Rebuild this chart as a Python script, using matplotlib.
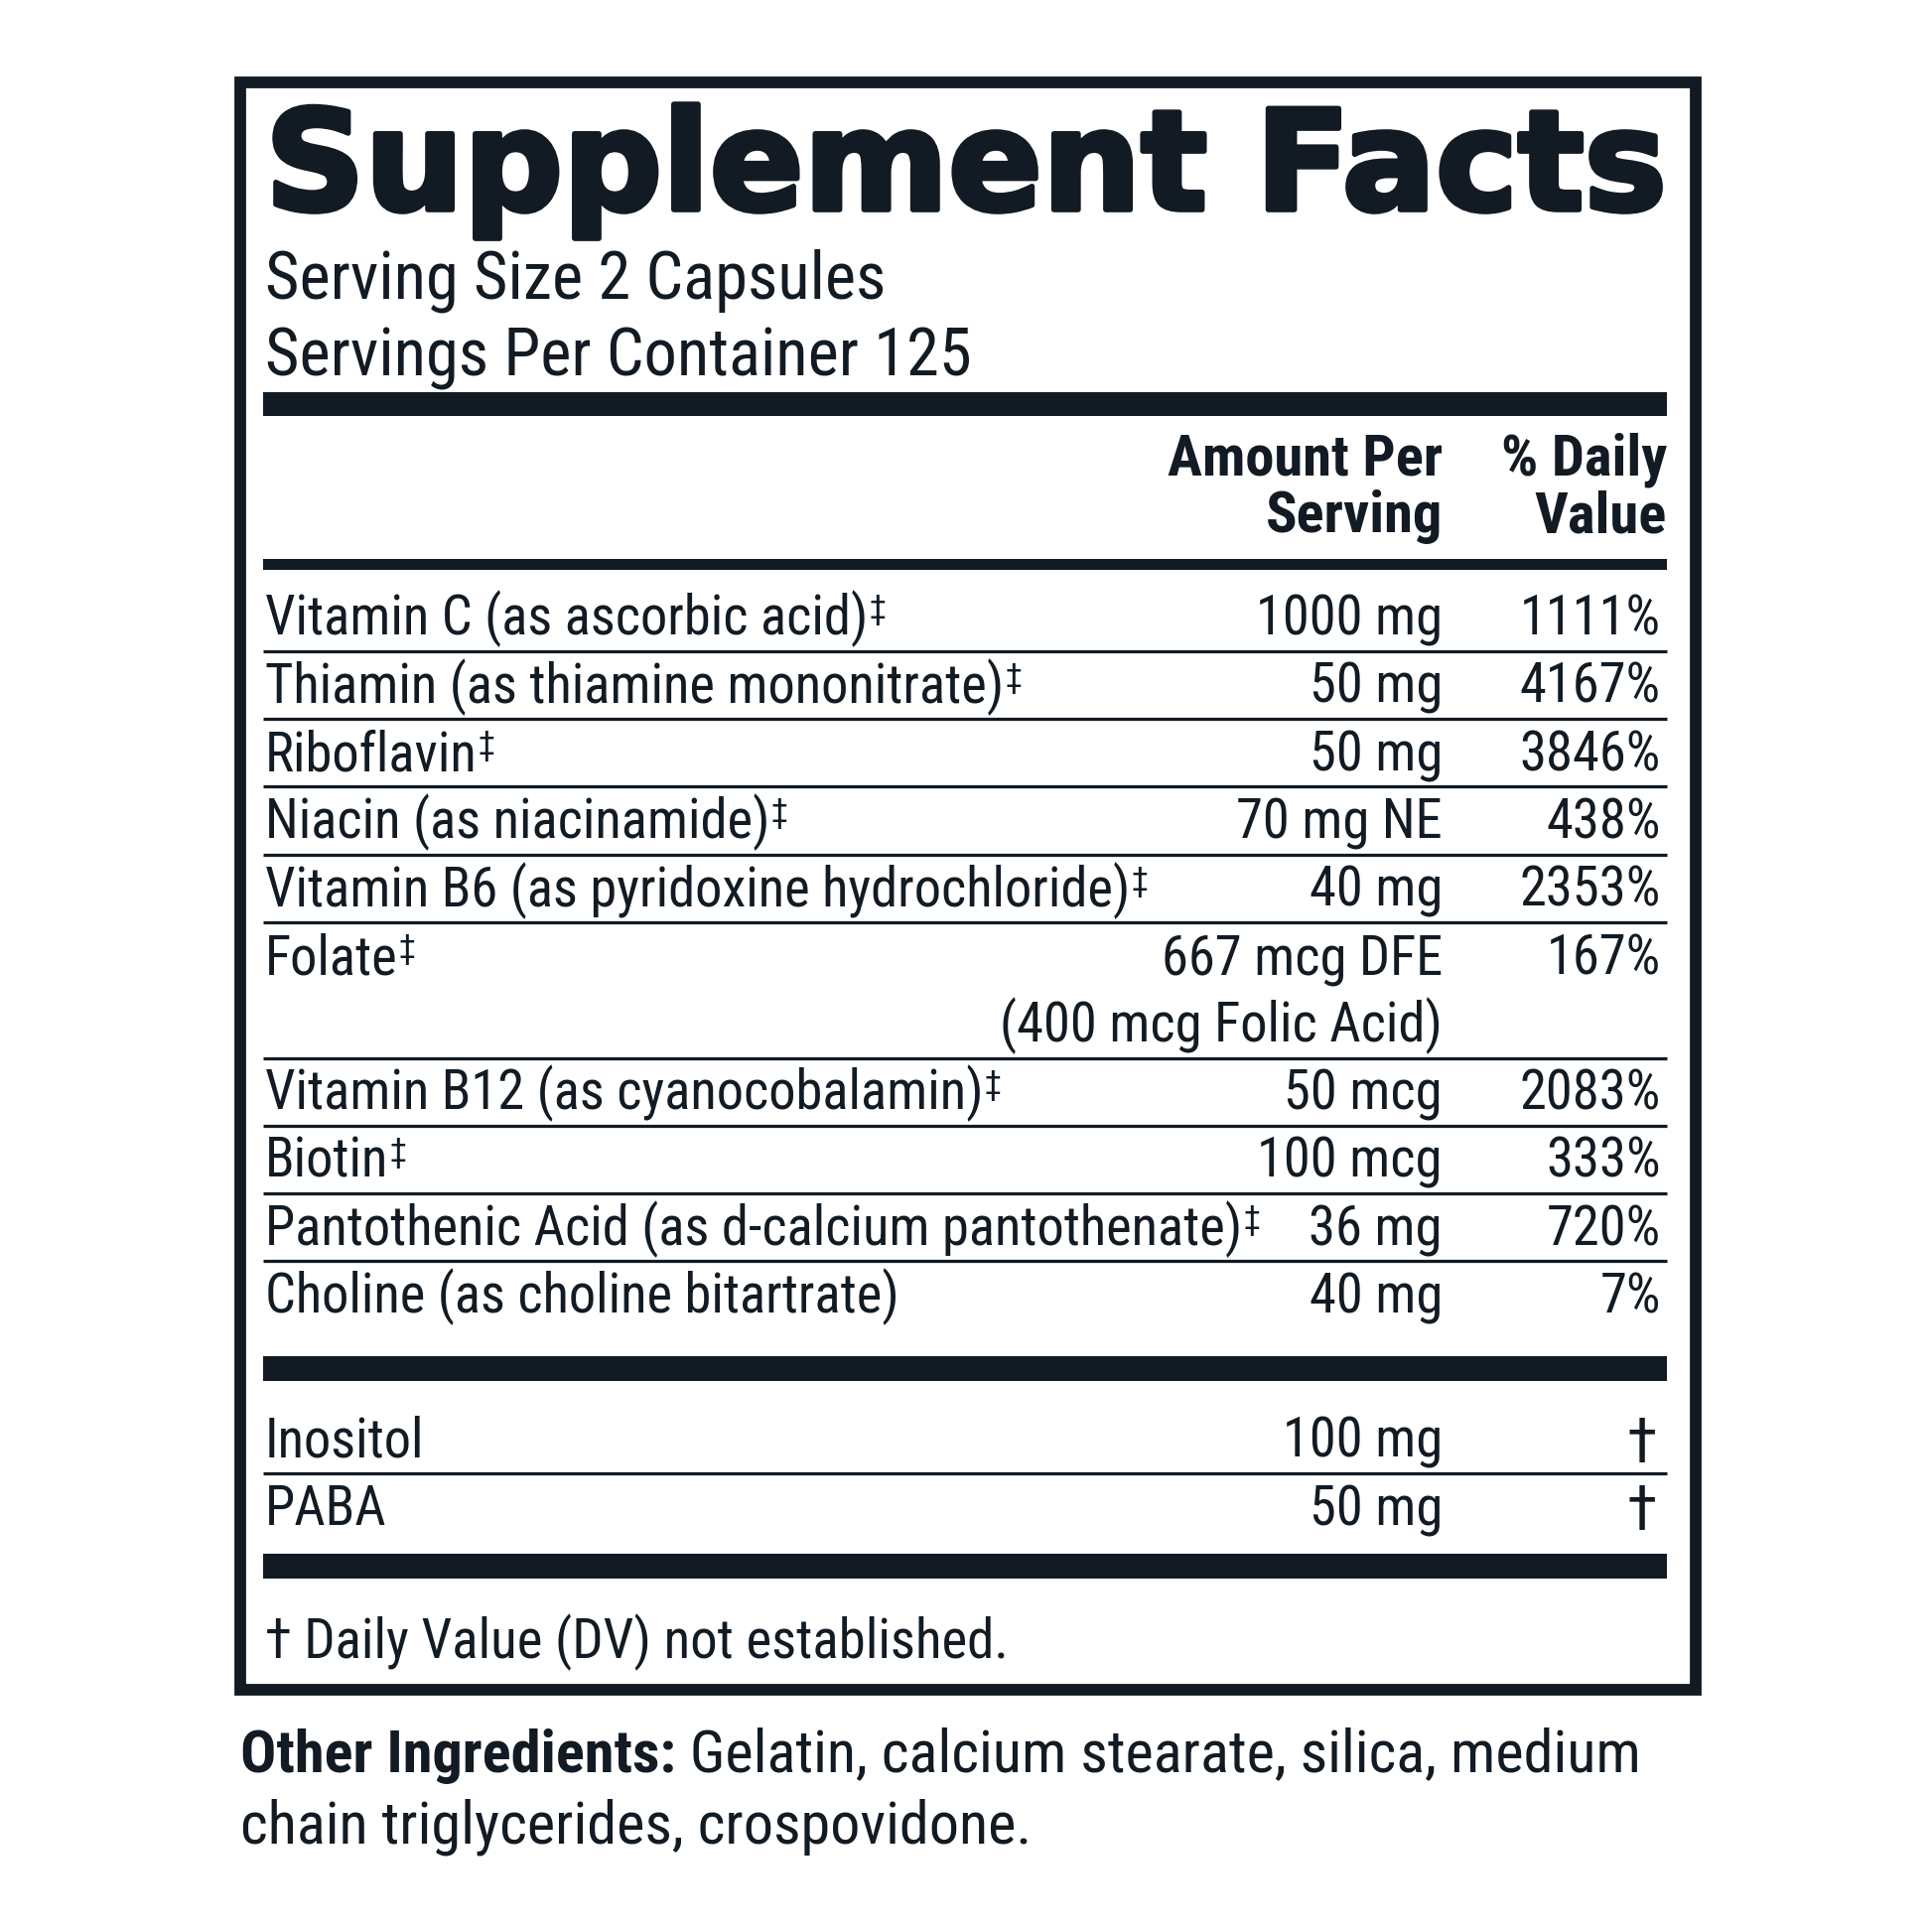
import matplotlib
matplotlib.use('Agg')
import matplotlib.pyplot as plt
from matplotlib import font_manager as fm
from matplotlib import patheffects as pe
from matplotlib.patches import Rectangle

# ---------------- data ----------------
title = 'Supplement Facts'
serving_lines = ['Serving Size 2 Capsules', 'Servings Per Container 125']
header_amount = ['Amount Per', 'Serving']
header_dv = ['% Daily', 'Value']

nutrients = ['Vitamin C (as ascorbic acid)', 'Thiamin (as thiamine mononitrate)', 'Riboflavin',
             'Niacin (as niacinamide)', 'Vitamin B6 (as pyridoxine hydrochloride)', 'Folate',
             'Vitamin B12 (as cyanocobalamin)', 'Biotin',
             'Pantothenic Acid (as d-calcium pantothenate)', 'Choline (as choline bitartrate)']
nutrient_marks = ['‡', '‡', '‡', '‡', '‡', '‡', '‡', '‡', '‡', '']
amounts = ['1000 mg', '50 mg', '50 mg', '70 mg NE', '40 mg', '667 mcg DFE',
           '50 mcg', '100 mcg', '36 mg', '40 mg']
amount_notes = ['', '', '', '', '', '(400 mcg Folic Acid)', '', '', '', '']
daily_values = ['1111%', '4167%', '3846%', '438%', '2353%', '167%',
                '2083%', '333%', '720%', '7%']

other_names = ['Inositol', 'PABA']
other_amounts = ['100 mg', '50 mg']
other_dv = ['†', '†']

footnote = '† Daily Value (DV) not established.'
ingredients_label = 'Other Ingredients:'
ingredients_lines = ['Gelatin, calcium stearate, silica, medium',
                     'chain triglycerides, crospovidone.']

# ---------------- styling ----------------
INK = '#121b23'
W = 1567.0                 # layout units across the figure
PX = 1946.0
PX_PER_U = PX / W
PT_PER_U = PX_PER_U * 72.0 / 100.0


def _w(f):
    w = f.weight
    if isinstance(w, str):
        w = fm.weight_dict.get(w, 400)
    return w


def pick_condensed():
    cands = []
    for f in fm.fontManager.ttflist:
        nm = f.name.lower()
        fn = f.fname.lower()
        if 'italic' in fn or 'oblique' in fn or f.style != 'normal':
            continue
        cond = ('condensed' in str(f.stretch).lower() or 'condensed' in nm or 'narrow' in nm
                or 'condensed' in fn or 'narrow' in fn)
        if 'semicondensed' in fn or 'semi' in str(f.stretch).lower():
            cond = False
        if cond:
            cands.append(f)
    prefs = ['roboto', 'liberation', 'dejavu', 'open sans', 'noto sans', '']
    for p in prefs:
        group = [f for f in cands if p in f.name.lower()]
        if group:
            reg = min(group, key=lambda f: abs(_w(f) - 400))
            same = [f for f in group if f.name == reg.name] or group
            bold = min(same, key=lambda f: abs(_w(f) - 700))
            return fm.FontProperties(fname=reg.fname), fm.FontProperties(fname=bold.fname)
    return (fm.FontProperties(family='Liberation Sans'),
            fm.FontProperties(family='Liberation Sans', weight='bold'))


FP_REG, FP_BOLD = pick_condensed()
FP_TITLE = fm.FontProperties(family='DejaVu Sans', weight='bold')

fig = plt.figure(figsize=(PX / 100, PX / 100), dpi=100)
ax = fig.add_axes([0, 0, 1, 1])
ax.set_xlim(0, W)
ax.set_ylim(W, 0)
ax.axis('off')
renderer = fig.canvas.get_renderer()


def text_width(s, fp, size):
    t = ax.text(0, 0, s, fontproperties=fp, fontsize=size)
    bb = t.get_window_extent(renderer=renderer)
    t.remove()
    return bb.width / PX_PER_U


def fit_size(s, fp, target):
    return 100.0 * target / text_width(s, fp, 100.0)


def put(x, y, s, fp, size, ha='left', **kw):
    return ax.text(x, y, s, fontproperties=fp, fontsize=size, ha=ha, va='baseline',
                   color=INK, **kw)


def hbar(y0, y1, x0=213, x1=1352):
    ax.add_patch(Rectangle((x0, y0), x1 - x0, y1 - y0, facecolor=INK, edgecolor='none'))


def hline(y):
    ax.plot([213, 1352], [y, y], color=INK, lw=2.6 * PT_PER_U, solid_capstyle='butt')


# outer box
bt = 9.5
ax.add_patch(Rectangle((190 + bt / 2, 62 + bt / 2), 1190 - bt, 1313 - bt, fill=False,
                       edgecolor=INK, linewidth=bt * PT_PER_U, joinstyle='miter'))

LEFT = 215
AMT_R, DV_R = 1170, 1347

# title (heavier via a thin outline of the same ink)
stroke = 3.0
s_title = fit_size(title, FP_TITLE, 1352 - 215)
put(LEFT, 170, title, FP_TITLE, s_title,
    path_effects=[pe.withStroke(linewidth=stroke * 1.3, foreground=INK)])

# serving info
s_serv = fit_size(serving_lines[1], FP_REG, 788 - 215)
put(LEFT, 242, serving_lines[0], FP_REG, s_serv)
put(LEFT, 305, serving_lines[1], FP_REG, s_serv)

hbar(318, 337)

# headers
s_head = fit_size(header_amount[0], FP_BOLD, 1170 - 947)
put(AMT_R, 385, header_amount[0], FP_BOLD, s_head, ha='right')
put(AMT_R, 432, header_amount[1], FP_BOLD, s_head, ha='right')
put(1352, 385, header_dv[0], FP_BOLD, s_head, ha='right')
put(1352, 432, header_dv[1], FP_BOLD, s_head, ha='right')

hbar(453, 462)

# body rows
s_body = fit_size(nutrients[8], FP_REG, 1008 - 215)
ROW = 55
bottom = 473
for i, name in enumerate(nutrients):
    n_lines = 2 if amount_notes[i] else 1
    top = bottom
    bottom = top + ROW * n_lines
    base = top + ROW - 13
    t = put(LEFT, base, name, FP_REG, s_body)
    if nutrient_marks[i]:
        xe = t.get_window_extent(renderer=renderer).x1 / PX_PER_U
        put(xe + 1, base - 13, nutrient_marks[i], FP_REG, s_body * 0.62)
    put(AMT_R, base, amounts[i], FP_REG, s_body, ha='right')
    if amount_notes[i]:
        put(AMT_R, base + ROW, amount_notes[i], FP_REG, s_body, ha='right')
    put(DV_R, base, daily_values[i], FP_REG, s_body, ha='right')
    if i < len(nutrients) - 1:
        hline(bottom)

hbar(1100, 1120)

bottom = 1140
for i, name in enumerate(other_names):
    top = bottom
    bottom = top + ROW
    base = top + ROW - 13
    put(LEFT, base, name, FP_REG, s_body)
    put(AMT_R, base, other_amounts[i], FP_REG, s_body, ha='right')
    put(DV_R - 3, base + 4, other_dv[i], FP_REG, s_body * 1.15, ha='right')
    if i < len(other_names) - 1:
        hline(bottom)

hbar(1260, 1280)

# footnote
s_foot = fit_size(footnote, FP_REG, 818 - 215)
put(LEFT, 1345, footnote, FP_REG, s_foot)

# other ingredients
s_ing = fit_size(ingredients_lines[1], FP_REG, 838 - 195)
lab = put(195, 1437, ingredients_label, FP_BOLD, s_ing)
xe = lab.get_window_extent(renderer=renderer).x1 / PX_PER_U
put(xe, 1437, ' ' + ingredients_lines[0], FP_REG, s_ing)
put(195, 1495, ingredients_lines[1], FP_REG, s_ing)

fig.savefig('out.png', dpi=100, facecolor='white')
